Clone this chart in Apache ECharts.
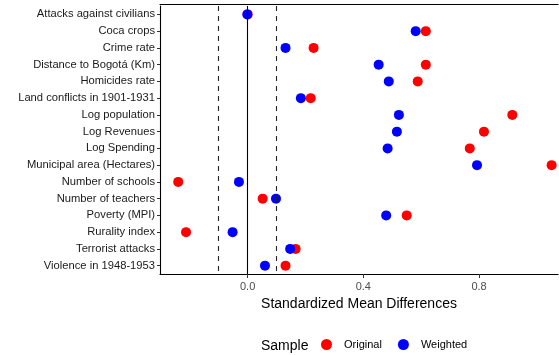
<!DOCTYPE html>
<html><head><meta charset="utf-8">
<script src="https://cdn.jsdelivr.net/npm/echarts@6/dist/echarts.min.js"></script>
<style>html,body{margin:0;padding:0;background:#fff}#c{width:559px;height:355px}</style>
</head><body><div id="c"></div>
<script>
const categories = ["Attacks against civilians","Coca crops","Crime rate","Distance to Bogotá (Km)","Homicides rate","Land conflicts in 1901-1931","Log population","Log Revenues","Log Spending","Municipal area (Hectares)","Number of schools","Number of teachers","Poverty (MPI)","Rurality index","Terrorist attacks","Violence in 1948-1953"];
const original = [0.0, 0.616, 0.228, 0.616, 0.588, 0.218, 0.915, 0.817, 0.768, 1.051, -0.240, 0.052, 0.550, -0.213, 0.166, 0.131];
const weighted = [-0.001, 0.581, 0.131, 0.453, 0.488, 0.184, 0.523, 0.516, 0.484, 0.793, -0.030, 0.098, 0.479, -0.052, 0.147, 0.060];
const xTicks = [0, 0.4, 0.8];
const refLines = [-0.1, 0.1];

const FONT = "Liberation Sans";
const chart = echarts.init(document.getElementById('c'), null, {renderer:'canvas'});
const toPairs = arr => arr.map((v,i)=>[v, categories[i]]);
chart.setOption({
  animation:false,
  textStyle:{fontFamily:FONT},
  title:{text:'Sample', left:256, top:334, textStyle:{fontFamily:FONT, fontSize:14, fontWeight:'normal', color:'#000'}},
  legend:{
    data:['Original','Weighted'], left:316, top:334, icon:'circle', itemWidth:11, itemHeight:11, itemGap:16,
    textStyle:{fontFamily:FONT, fontSize:11, color:'#000', padding:[0,0,0,7]}
  },
  grid:{left:160, right:1, top:6, height:268},
  xAxis:[{
    type:'value', min:-0.303, max:1.073, position:'bottom',
    splitLine:{show:false},
    axisLine:{show:true, onZero:false, lineStyle:{color:'#000', width:1.1}},
    axisTick:{show:true, length:4, lineStyle:{color:'#333'}, customValues:xTicks},
    axisLabel:{customValues:xTicks, formatter:v=>v.toFixed(1), fontSize:11, color:'#4d4d4d', margin:7, fontFamily:FONT},
    name:'Standardized Mean Differences', nameLocation:'middle', nameGap:22,
    nameTextStyle:{fontSize:14, color:'#000', fontFamily:FONT}
  },{
    type:'value', min:-0.303, max:1.073, position:'top', offset:2,
    splitLine:{show:false}, axisTick:{show:false}, axisLabel:{show:false},
    axisLine:{show:true, onZero:false, lineStyle:{color:'#000', width:1.1}}
  }],
  yAxis:{
    type:'category', data:categories, inverse:true, boundaryGap:true,
    axisLine:{show:true, onZero:false, lineStyle:{color:'#000', width:1.1}},
    axisTick:{show:true, alignWithLabel:true, length:3, lineStyle:{color:'#333'}},
    axisLabel:{fontSize:11.2, color:'#1a1a1a', margin:5, fontFamily:FONT},
    splitLine:{show:false}
  },
  series:[
    {name:'Original', type:'scatter', data:toPairs(original), symbolSize:10, itemStyle:{color:'#ff0000', opacity:1}, z:3,
     markLine:{silent:true, symbol:'none', label:{show:false},
       data:[...refLines.map(v=>({xAxis:v, lineStyle:{type:[5,5], color:'#222', width:1.1}})), {xAxis:0, lineStyle:{type:'solid', color:'#000', width:1.1}}]}},
    {name:'Weighted', type:'scatter', data:toPairs(weighted), symbolSize:10, itemStyle:{color:'#0000ff', opacity:1}, z:4}
  ]
});
</script></body></html>
